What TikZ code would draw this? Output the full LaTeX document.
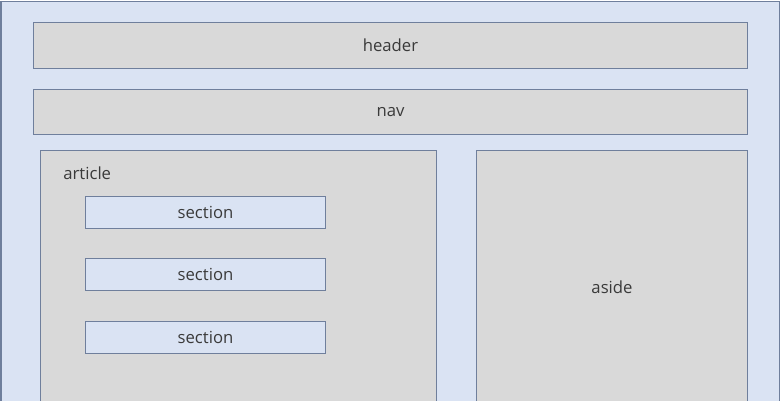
\documentclass[tikz,border=0pt]{standalone}
\usepackage{fontspec}
\setmainfont{Open Sans}
\usepackage{xcolor}
\usetikzlibrary{positioning}

\definecolor{fundo}{HTML}{DAE3F3}
\definecolor{cinza}{HTML}{D9D9D9}
\definecolor{borda}{HTML}{6F7F9C}
\definecolor{texto}{HTML}{3A3A3A}

\begin{document}
\begin{tikzpicture}[
    x=0.02cm, y=-0.02cm,
    caixa/.style={
        rectangle,
        draw=borda,
        line width=0.6pt,
        fill=cinza,
        text=texto,
        anchor=north west,
        inner sep=0pt,
        font=\fontsize{9.5}{11}\selectfont
    },
    secao/.style={
        caixa,
        fill=fundo,
        minimum width=4.8cm,
        minimum height=0.64cm
    }
]
\useasboundingbox (0,0) rectangle (781,400);
\clip (0,0) rectangle (781,400);

\node[caixa, fill=fundo, minimum width=15.58cm, minimum height=9cm] (pagina) at (0.5,0.5) {};

\node[caixa, minimum width=14.28cm, minimum height=0.92cm] (header) at (33,22) {header};
\node[caixa, minimum width=14.28cm, minimum height=0.9cm] (nav) at (33,89) {nav};

\node[caixa, minimum width=7.92cm, minimum height=5.5cm] (article) at (40,150) {};
\node[anchor=west, inner sep=0pt, text=texto, font=\fontsize{9.5}{11}\selectfont] (rotulo) at (63,173) {article};

\node[secao] (sec1) at (85,196) {section};
\node[secao] (sec2) at (85,258) {section};
\node[secao] (sec3) at (85,321) {section};

\node[caixa, minimum width=5.42cm, minimum height=5.48cm] (aside) at (476,150) {aside};

\end{tikzpicture}
\end{document}
